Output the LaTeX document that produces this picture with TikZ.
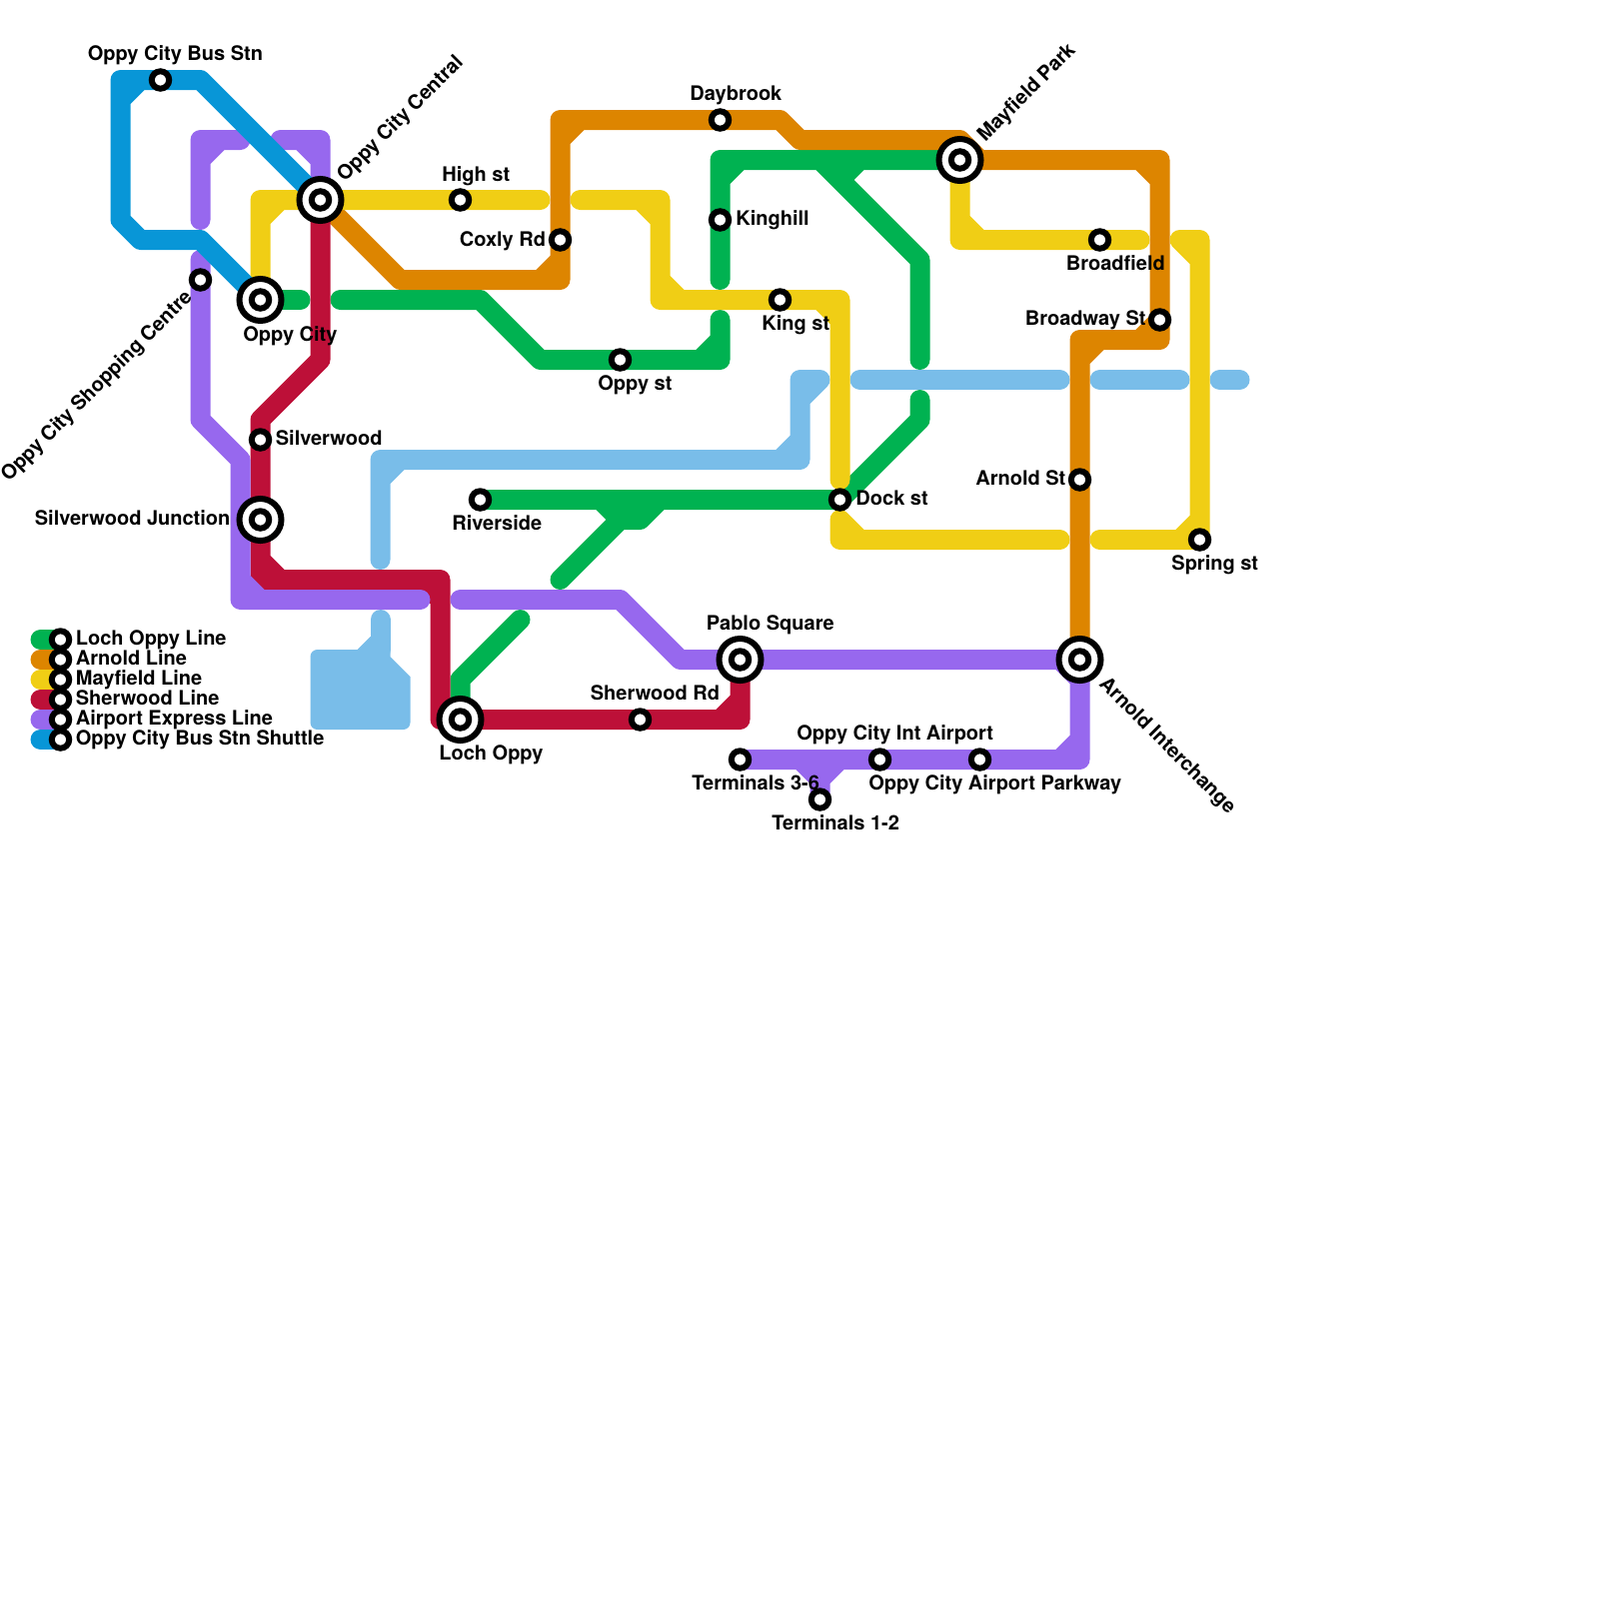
\documentclass[tikz,border=0pt]{standalone}
\usepackage{fontspec}
\setmainfont{TeX Gyre Heros}
\usetikzlibrary{positioning}
\definecolor{lochgreen}{HTML}{00B251}
\definecolor{arnoldorange}{HTML}{DD8500}
\definecolor{mayfieldyellow}{HTML}{F0CE15}
\definecolor{sherwoodred}{HTML}{BD1038}
\definecolor{airportpurple}{HTML}{9768EE}
\definecolor{busblue}{HTML}{0896D7}
\definecolor{paleblue}{HTML}{79BDE9}
\pgfdeclarelayer{lines}
\pgfsetlayers{lines,main}
\tikzset{
  metroline/.style={line width=2mm,line cap=round,line join=round},
  loch/.style={metroline,draw=lochgreen},
  arnold/.style={metroline,draw=arnoldorange},
  mayfield/.style={metroline,draw=mayfieldyellow},
  sherwood/.style={metroline,draw=sherwoodred},
  airport/.style={metroline,draw=airportpurple},
  shuttle/.style={metroline,draw=busblue},
  pale/.style={metroline,draw=paleblue},
  stn/.style={circle,draw=black,fill=white,line width=.6mm,minimum size=1.74mm,inner sep=0pt},
  hub/.style={circle,draw=black,fill=white,line width=.6mm,minimum size=4.2mm,inner sep=0pt,
    path picture={\draw[line width=.6mm] (path picture bounding box.center) circle (.87mm);}},
  lbl/.style={font=\fontsize{5.69}{6.5}\selectfont\bfseries,inner sep=0pt,anchor=base west,xshift=-.08mm,yshift=-.1mm}
}
\begin{document}
\begin{tikzpicture}[x=.1mm,y=-.1mm]
\useasboundingbox (-.5,0) rectangle (1599.5,1600);
% stations
\node[stn] (bus) at (160,80) {};
\node[stn] (high) at (460,200) {};
\node[stn] (coxly) at (560,240) {};
\node[stn] (shop) at (200,280) {};
\node[stn] (silver) at (260,440) {};
\node[stn] (river) at (480,500) {};
\node[stn] (sherw) at (640,720) {};
\node[stn] (daybr) at (720,120) {};
\node[stn] (kingh) at (720,220) {};
\node[stn] (kingst) at (780,300) {};
\node[stn] (oppyst) at (620,360) {};
\node[stn] (dock) at (840,500) {};
\node[stn] (bfield) at (1100,240) {};
\node[stn] (bway) at (1160,320) {};
\node[stn] (arnst) at (1080,480) {};
\node[stn] (spring) at (1200,540) {};
\node[stn] (t36) at (740,760) {};
\node[stn] (intair) at (880,760) {};
\node[stn] (parkw) at (980,760) {};
\node[stn] (t12) at (820,800) {};
\node[hub] (central) at (320,200) {};
\node[hub] (oppycity) at (260,300) {};
\node[hub] (silvjn) at (260,520) {};
\node[hub] (lochop) at (460,720) {};
\node[hub] (pablo) at (740,660) {};
\node[hub] (mayf) at (960,160) {};
\node[hub] (arnint) at (1080,660) {};
% legend
\node[stn] (leg1) at (60,640) {};
\node[stn] (leg2) at (60,660) {};
\node[stn] (leg3) at (60,680) {};
\node[stn] (leg4) at (60,700) {};
\node[stn] (leg5) at (60,720) {};
\node[stn] (leg6) at (60,740) {};
\coordinate (lega1) at (40,640);
\coordinate (lega2) at (40,660);
\coordinate (lega3) at (40,680);
\coordinate (lega4) at (40,700);
\coordinate (lega5) at (40,720);
\coordinate (lega6) at (40,740);
% free line ends
\coordinate (gr1) at (300,300);
\coordinate (gr2) at (340,300);
\coordinate (gr3) at (720,320);
\coordinate (gr4) at (720,280);
\coordinate (gr5) at (920,360);
\coordinate (gr6) at (820,160);
\coordinate (gr7) at (920,400);
\coordinate (gr8) at (560,580);
\coordinate (gr9) at (520,620);
\coordinate (ye1) at (540,200);
\coordinate (ye2) at (580,200);
\coordinate (ye3) at (840,480);
\coordinate (ye4) at (840,520);
\coordinate (ye5) at (1060,540);
\coordinate (ye6) at (1100,540);
\coordinate (ye7) at (1180,240);
\coordinate (ye8) at (1140,240);
\coordinate (pu1) at (240,140);
\coordinate (pu2) at (200,220);
\coordinate (pu3) at (280,140);
\coordinate (pu4) at (200,260);
\coordinate (pu5) at (420,600);
\coordinate (pu6) at (460,600);
\coordinate (pu7) at (800,760);
\coordinate (pu8) at (840,760);
\coordinate (lb1) at (380,560);
\coordinate (lb2) at (820,380);
\coordinate (lb3) at (860,380);
\coordinate (lb4) at (1060,380);
\coordinate (lb5) at (1100,380);
\coordinate (lb6) at (1180,380);
\coordinate (lb7) at (1220,380);
\coordinate (lb8) at (1240,380);
\coordinate (lb9) at (380,620);
\begin{pgfonlayer}{lines}
% pale blue
\draw[pale] (lb1) -- (380,460) -- (800,460) -- (800,380) -- (lb2) (380,480) -- (400,460) (780,460) -- (800,440) (800,400) -- (820,380);
\draw[pale] (lb3) -- (lb4);
\draw[pale] (lb5) -- (lb6);
\draw[pale] (lb7) -- (lb8);
\draw[pale] (lb9) -- (380,650);
\fill[paleblue] (370,637) -- (357,650) [rounded corners=.7mm] -- (310,650) -- (310,730) -- (410,730) [sharp corners] -- (410,677) -- (390,657) -- (390,637) -- cycle;
% loch oppy
\draw[loch] (oppycity.center) -- (gr1);
\draw[loch] (gr2) -- (480,300) -- (540,360) -- (oppyst.center) -- (720,360) -- (gr3) (700,360) -- (720,340);
\draw[loch] (gr4) -- (kingh.center) -- (720,160) -- (mayf.center) (720,180) -- (740,160) (gr6) -- (920,260) -- (gr5) (840,180) -- (860,160);
\draw[loch] (gr7) -- (920,420) -- (dock.center) -- (river.center) (gr8) -- (620,520) -- (640,520) -- (660,500) (600,500) -- (620,520);
\draw[loch] (lochop.center) -- (460,680) -- (gr9);
\draw[loch] (lega1) -- (leg1.center);
% arnold
\draw[arnold] (central.center) -- (400,280) -- (560,280) -- (coxly.center) -- (560,120) -- (daybr.center) -- (780,120) -- (800,140) -- (960,140) -- (980,160) -- (1160,160) -- (bway.center) -- (1160,340) -- (1080,340) -- (arnst.center) -- (arnint.center)
  (540,280) -- (560,260) (560,140) -- (580,120) (1140,160) -- (1160,180) (1160,320) -- (1140,340) (1100,340) -- (1080,360);
\draw[arnold] (lega2) -- (leg2.center);
% mayfield
\draw[mayfield] (oppycity.center) -- (260,200) -- (central.center) -- (high.center) -- (ye1) (260,220) -- (280,200);
\draw[mayfield] (ye2) -- (660,200) -- (660,300) -- (kingst.center) -- (840,300) -- (ye3) (640,200) -- (660,220) (660,280) -- (680,300) (820,300) -- (840,320);
\draw[mayfield] (ye4) -- (840,540) -- (ye5) (840,520) -- (860,540);
\draw[mayfield] (ye6) -- (spring.center) -- (1200,240) -- (ye7) (1180,540) -- (1200,520) (1180,240) -- (1200,260);
\draw[mayfield] (mayf.center) -- (960,240) -- (bfield.center) -- (ye8) (960,220) -- (980,240);
\draw[mayfield] (lega3) -- (leg3.center);
% sherwood
\draw[sherwood] (central.center) -- (320,360) -- (260,420) -- (silver.center) -- (silvjn.center) -- (260,580) -- (440,580) -- (440,720) -- (lochop.center) -- (sherw.center) -- (740,720) -- (pablo.center)
  (260,560) -- (280,580) (420,580) -- (440,600) (720,720) -- (740,700);
\draw[sherwood] (lega4) -- (leg4.center);
% airport express
\draw[airport] (pu1) -- (200,140) -- (pu2) (200,160) -- (220,140);
\draw[airport] (pu3) -- (320,140) -- (central.center) (300,140) -- (320,160);
\draw[airport] (pu4) -- (shop.center) -- (200,420) -- (240,460) -- (240,600) -- (pu5) (240,580) -- (260,600);
\draw[airport] (pu6) -- (620,600) -- (680,660) -- (pablo.center) -- (arnint.center) -- (1080,760) -- (parkw.center) -- (intair.center) -- (t36.center)
  (1060,660) -- (1080,680) (1060,760) -- (1080,740) (pu7) -- (820,780) -- (t12.center) (pu8) -- (820,780);
\draw[airport] (lega5) -- (leg5.center);
% shuttle
\draw[shuttle] (oppycity.center) -- (200,240) -- (140,240) -- (120,220) -- (120,80) -- (bus.center) -- (200,80) -- (central.center) (120,100) -- (140,80);
\draw[shuttle] (lega6) -- (leg6.center);
\end{pgfonlayer}
% labels
\node[lbl] (lbus) at (87.5,59.5) {Oppy City Bus Stn};
\node[lbl,rotate=45] (lcentral) at (345,182) {Oppy City Central};
\node[lbl] (lhigh) at (442,180) {High st};
\node[lbl] (lcoxly) at (459.5,245) {Coxly Rd};
\node[lbl] (loppycity) at (243,340) {Oppy City};
\node[lbl,rotate=45,anchor=base east] (lshop) at (194,297) {Oppy City Shopping Centre};
\node[lbl] (lsilver) at (275.5,444) {Silverwood};
\node[lbl] (lsilvjn) at (34.5,524) {Silverwood Junction};
\node[lbl] (lriver) at (452,529) {Riverside};
\node[lbl] (llochop) at (439,759) {Loch Oppy};
\node[lbl] (ldaybr) at (690,99) {Daybrook};
\node[lbl] (lkingh) at (736,224) {Kinghill};
\node[lbl] (lkingst) at (762,329) {King st};
\node[lbl] (loppyst) at (598,389) {Oppy st};
\node[lbl,rotate=45] (lmayf) at (986,142) {Mayfield Park};
\node[lbl] (lbfield) at (1066.5,269) {Broadfield};
\node[lbl] (lbway) at (1025.5,324) {Broadway St};
\node[lbl] (ldock) at (856,504) {Dock st};
\node[lbl] (lpablo) at (706.5,629) {Pablo Square};
\node[lbl] (lsherw) at (590.5,699) {Sherwood Rd};
\node[lbl] (lintair) at (797,739) {Oppy City Int Airport};
\node[lbl] (lt36) at (692,789) {Terminals 3-6};
\node[lbl] (lt12) at (772,829) {Terminals 1-2};
\node[lbl] (lparkw) at (869,789) {Oppy City Airport Parkway};
\node[lbl] (larnst) at (976,484) {Arnold St};
\node[lbl] (lspring) at (1172,569) {Spring st};
\node[lbl,rotate=-45] (larnint) at (1099,684) {Arnold Interchange};
\node[lbl] (lleg1) at (75.5,644) {Loch Oppy Line};
\node[lbl] (lleg2) at (75.5,664) {Arnold Line};
\node[lbl] (lleg3) at (75.5,684) {Mayfield Line};
\node[lbl] (lleg4) at (75.5,704) {Sherwood Line};
\node[lbl] (lleg5) at (75.5,724) {Airport Express Line};
\node[lbl] (lleg6) at (75.5,744) {Oppy City Bus Stn Shuttle};
\end{tikzpicture}
\end{document}
